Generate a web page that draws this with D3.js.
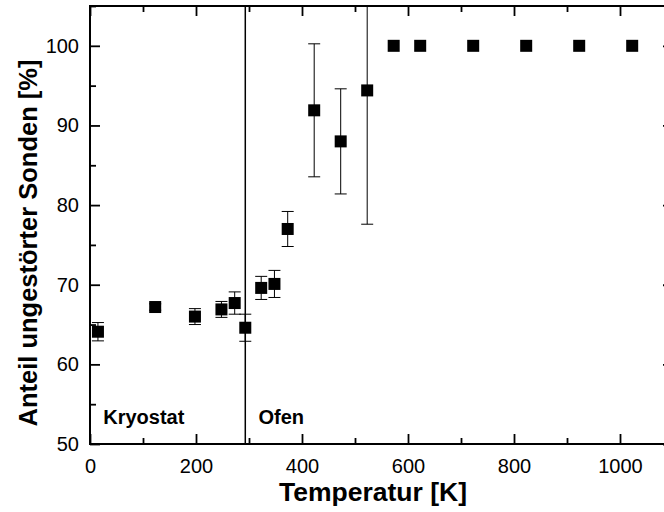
<!DOCTYPE html>
<html>
<head>
<meta charset="utf-8">
<script src="https://cdn.jsdelivr.net/npm/d3@7"></script>
<style>
  html, body { margin: 0; padding: 0; background: #fff; }
  svg { display: block; }
</style>
</head>
<body>
<svg id="chart" width="664" height="512"></svg>
<script>
// Temperature of each measurement [K]
const temperature = [15, 123, 198, 248, 273, 293, 323, 348, 373, 423, 473, 523, 573, 623, 723, 823, 923, 1023];
// Fraction of undisturbed probes [%]
const fraction = [64.1, 67.2, 66.0, 66.9, 67.7, 64.6, 69.6, 70.1, 77.0, 91.9, 88.0, 94.4, 100, 100, 100, 100, 100, 100];
// Symmetric uncertainty [%]
const uncertainty = [1.15, 0.4, 1.0, 1.0, 1.4, 1.7, 1.45, 1.7, 2.2, 8.35, 6.6, 16.8, 0, 0, 0, 0, 0, 0];

const xMajor = [0, 200, 400, 600, 800, 1000];
const xMinor = [100, 300, 500, 700, 900, 1100];
const yMajor = [50, 60, 70, 80, 90, 100];
const yMinor = [55, 65, 75, 85, 95, 105];

// Boundary between cryostat and furnace measurements [K]
const boundary = 293;
const regionLabels = [
  { text: "Kryostat", t: 25 },
  { text: "Ofen", t: 318 }
];

const margin = { left: 90, top: 6 };
const width = 583, height = 438;

const svg = d3.select("#chart");
const g = svg.append("g").attr("transform", `translate(${margin.left},${margin.top})`);

const x = d3.scaleLinear().domain([0, 1100]).range([0, width]);
const y = d3.scaleLinear().domain([50, 105]).range([height, 0]);

const font = "'Liberation Sans', Arial, Helvetica, sans-serif";

svg.append("defs").append("clipPath").attr("id", "plot-clip")
  .append("rect").attr("width", width).attr("height", height);

// Axes with inward ticks on all four sides
function styleAxis(sel) {
  sel.select(".domain").remove();
  sel.selectAll(".tick line").attr("stroke", "#000").attr("stroke-width", 1.8);
  sel.selectAll("text").attr("font-family", font).attr("font-size", 20).attr("fill", "#000");
}

g.append("g").attr("transform", `translate(0,${height})`)
  .call(d3.axisBottom(x).tickValues(xMajor).tickSize(-10).tickPadding(15).tickFormat(d3.format("d")))
  .call(styleAxis);
g.append("g").attr("transform", `translate(0,${height})`)
  .call(d3.axisBottom(x).tickValues(xMinor).tickSize(-6).tickFormat(""))
  .call(styleAxis);
g.append("g")
  .call(d3.axisTop(x).tickValues(xMajor).tickSize(-10).tickFormat(""))
  .call(styleAxis);
g.append("g")
  .call(d3.axisTop(x).tickValues(xMinor).tickSize(-6).tickFormat(""))
  .call(styleAxis);

g.append("g")
  .call(d3.axisLeft(y).tickValues(yMajor).tickSize(-10).tickPadding(11).tickFormat(d3.format("d")))
  .call(styleAxis);
g.append("g")
  .call(d3.axisLeft(y).tickValues(yMinor).tickSize(-6).tickFormat(""))
  .call(styleAxis);
g.append("g").attr("transform", `translate(${width},0)`)
  .call(d3.axisRight(y).tickValues(yMajor).tickSize(-10).tickFormat(""))
  .call(styleAxis);
g.append("g").attr("transform", `translate(${width},0)`)
  .call(d3.axisRight(y).tickValues(yMinor).tickSize(-6).tickFormat(""))
  .call(styleAxis);

// Frame
g.append("rect")
  .attr("width", width).attr("height", height)
  .attr("fill", "none").attr("stroke", "#000").attr("stroke-width", 2);

const plot = g.append("g").attr("clip-path", "url(#plot-clip)");

// Cryostat / furnace boundary
plot.append("line")
  .attr("x1", x(boundary)).attr("x2", x(boundary))
  .attr("y1", 0).attr("y2", height)
  .attr("stroke", "#000").attr("stroke-width", 1.5);

const data = temperature.map((t, i) => ({ t, v: fraction[i], e: uncertainty[i] }));
const withErr = data.filter(d => d.e > 0);
const cap = 6;

// Error bars
const eb = plot.append("g").attr("stroke", "#000").attr("stroke-width", 1);
eb.selectAll("line.stem").data(withErr).join("line").attr("class", "stem")
  .attr("x1", d => x(d.t)).attr("x2", d => x(d.t))
  .attr("y1", d => y(d.v + d.e)).attr("y2", d => y(d.v - d.e));
eb.selectAll("line.top").data(withErr).join("line").attr("class", "top")
  .attr("x1", d => x(d.t) - cap).attr("x2", d => x(d.t) + cap)
  .attr("y1", d => y(d.v + d.e)).attr("y2", d => y(d.v + d.e));
eb.selectAll("line.bot").data(withErr).join("line").attr("class", "bot")
  .attr("x1", d => x(d.t) - cap).attr("x2", d => x(d.t) + cap)
  .attr("y1", d => y(d.v - d.e)).attr("y2", d => y(d.v - d.e));

// Square markers
const s = 12;
plot.selectAll("rect.pt").data(data).join("rect").attr("class", "pt")
  .attr("x", d => x(d.t) - s / 2).attr("y", d => y(d.v) - s / 2)
  .attr("width", s).attr("height", s).attr("fill", "#000");

// Region labels
g.selectAll("text.region").data(regionLabels).join("text").attr("class", "region")
  .attr("x", d => x(d.t)).attr("y", 418)
  .attr("font-family", font).attr("font-size", 20).attr("font-weight", "bold")
  .text(d => d.text);

// Axis titles
svg.append("text")
  .attr("x", 373).attr("y", 501)
  .attr("text-anchor", "middle")
  .attr("font-family", font).attr("font-size", 26.5).attr("font-weight", "bold")
  .text("Temperatur [K]");

svg.append("text")
  .attr("transform", "translate(37,243) rotate(-90)")
  .attr("text-anchor", "middle")
  .attr("font-family", font).attr("font-size", 25.5).attr("font-weight", "bold")
  .text("Anteil ungestörter Sonden [%]");
</script>
</body>
</html>
